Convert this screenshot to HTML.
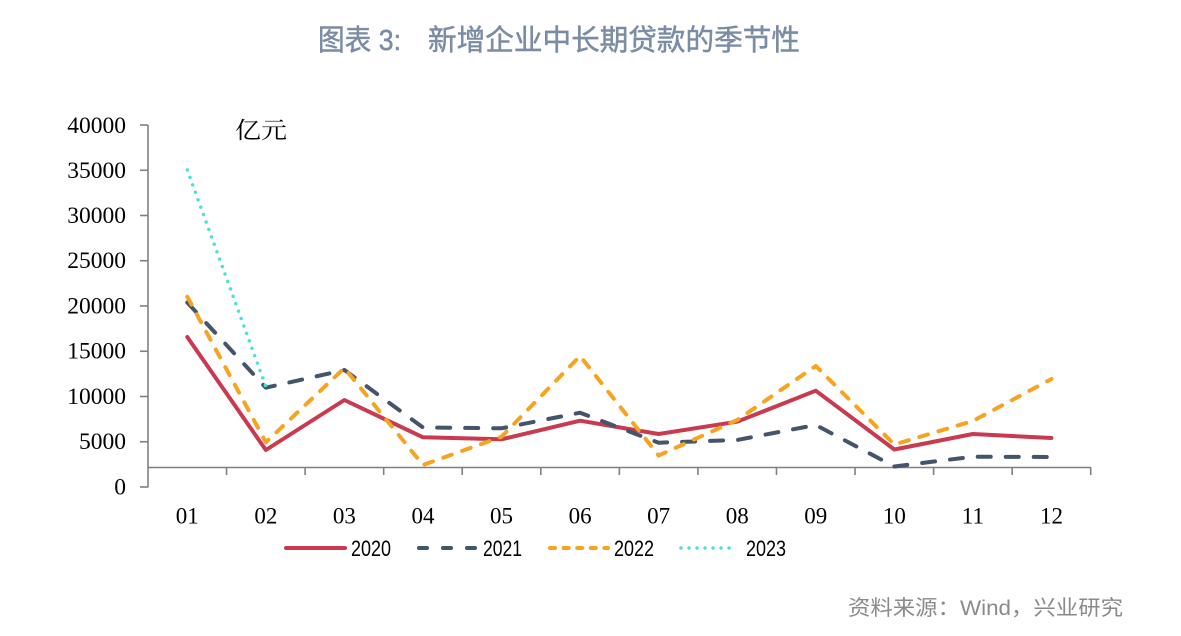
<!DOCTYPE html>
<html>
<head>
<meta charset="utf-8">
<style>
  html, body { margin:0; padding:0; background:#ffffff; }
  body { width:1181px; height:636px; overflow:hidden; }
  svg { display:block; }
</style>
</head>
<body>
<svg width="1181" height="636" viewBox="0 0 1181 636" xmlns="http://www.w3.org/2000/svg">
  <rect x="0" y="0" width="1181" height="636" fill="#ffffff"/>

  <!-- Title -->
  <text x="318" y="50" font-family="'Liberation Sans','Noto Sans CJK SC',sans-serif" font-size="29" fill="#7b8ca5" stroke="#7b8ca5" stroke-width="0.5" textLength="83" lengthAdjust="spacingAndGlyphs">图表 3:</text>
  <text x="428" y="50" font-family="'Liberation Sans','Noto Sans CJK SC',sans-serif" font-size="29" fill="#7b8ca5" stroke="#7b8ca5" stroke-width="0.5" textLength="372" lengthAdjust="spacingAndGlyphs">新增企业中长期贷款的季节性</text>

  <!-- Unit label -->
  <text x="235" y="138" font-family="'Liberation Serif','Noto Serif CJK SC',serif" font-size="23" fill="#000000" textLength="52" lengthAdjust="spacingAndGlyphs">亿元</text>

  <!-- Y axis -->
  <g stroke="#808080" stroke-width="1.6" fill="none">
    <line x1="148" y1="125" x2="148" y2="487.5"/>
    <line x1="140" y1="125" x2="148" y2="125"/>
    <line x1="140" y1="170.25" x2="148" y2="170.25"/>
    <line x1="140" y1="215.5" x2="148" y2="215.5"/>
    <line x1="140" y1="260.75" x2="148" y2="260.75"/>
    <line x1="140" y1="306" x2="148" y2="306"/>
    <line x1="140" y1="351.25" x2="148" y2="351.25"/>
    <line x1="140" y1="396.5" x2="148" y2="396.5"/>
    <line x1="140" y1="441.75" x2="148" y2="441.75"/>
    <line x1="140" y1="487" x2="148" y2="487"/>
    <!-- X axis -->
    <line x1="148" y1="467.5" x2="1091" y2="467.5"/>
    <line x1="226.56" y1="467.5" x2="226.56" y2="475"/>
    <line x1="305.12" y1="467.5" x2="305.12" y2="475"/>
    <line x1="383.68" y1="467.5" x2="383.68" y2="475"/>
    <line x1="462.24" y1="467.5" x2="462.24" y2="475"/>
    <line x1="540.8" y1="467.5" x2="540.8" y2="475"/>
    <line x1="619.36" y1="467.5" x2="619.36" y2="475"/>
    <line x1="697.92" y1="467.5" x2="697.92" y2="475"/>
    <line x1="776.48" y1="467.5" x2="776.48" y2="475"/>
    <line x1="855.04" y1="467.5" x2="855.04" y2="475"/>
    <line x1="933.6" y1="467.5" x2="933.6" y2="475"/>
    <line x1="1012.16" y1="467.5" x2="1012.16" y2="475"/>
    <line x1="1090.72" y1="467.5" x2="1090.72" y2="475"/>
  </g>

  <!-- Y labels -->
  <g font-family="'Liberation Serif',serif" font-size="23.5" fill="#000000" text-anchor="end">
    <text x="126" y="133">40000</text>
    <text x="126" y="178">35000</text>
    <text x="126" y="223">30000</text>
    <text x="126" y="268">25000</text>
    <text x="126" y="313.5">20000</text>
    <text x="126" y="358.5">15000</text>
    <text x="126" y="404">10000</text>
    <text x="126" y="449">5000</text>
    <text x="126" y="494.5">0</text>
  </g>

  <!-- X labels -->
  <g font-family="'Liberation Serif',serif" font-size="23" fill="#000000" text-anchor="middle">
    <text x="187.28" y="523.5">01</text>
    <text x="265.84" y="523.5">02</text>
    <text x="344.4" y="523.5">03</text>
    <text x="422.96" y="523.5">04</text>
    <text x="501.52" y="523.5">05</text>
    <text x="580.08" y="523.5">06</text>
    <text x="658.64" y="523.5">07</text>
    <text x="737.2" y="523.5">08</text>
    <text x="815.76" y="523.5">09</text>
    <text x="894.32" y="523.5">10</text>
    <text x="972.88" y="523.5">11</text>
    <text x="1051.44" y="523.5">12</text>
  </g>

  <!-- Series -->
  <g fill="none" stroke-linejoin="round">
    <!-- 2020 -->
    <polyline stroke="#c93a50" stroke-width="4" stroke-linecap="round"
      points="187.28,337 265.84,450 344.4,400 422.96,437.3 501.52,439.3 580.08,420.7 658.64,434 737.2,421.7 815.76,390.7 894.32,449.5 972.88,434 1051.44,438"/>
    <!-- 2021 -->
    <polyline stroke="#44546a" stroke-width="4" stroke-linecap="round" stroke-dasharray="13 15"
      points="187.28,302.5 265.84,387.7 344.4,370 422.96,427.5 501.52,428.3 580.08,412.7 658.64,442.7 737.2,440 815.76,425 894.32,466.5 972.88,456.7 1051.44,457"/>
    <!-- 2022 -->
    <polyline stroke="#f6a41f" stroke-width="4" stroke-linecap="round" stroke-dasharray="9 11"
      points="187.28,296.7 265.84,442.3 344.4,368 422.96,465 501.52,436.7 580.08,356 658.64,455.5 737.2,420 815.76,366 894.32,444.5 972.88,421 1051.44,379"/>
    <!-- 2023 -->
    <polyline stroke="#4ee0d8" stroke-width="3.5" stroke-linecap="round" stroke-dasharray="0 7.9"
      points="187.28,170 265.84,386.5"/>
  </g>

  <!-- Legend -->
  <g fill="none">
    <line x1="286" y1="548" x2="345" y2="548" stroke="#c93a50" stroke-width="4" stroke-linecap="round"/>
    <line x1="419" y1="548" x2="477" y2="548" stroke="#44546a" stroke-width="4" stroke-linecap="round" stroke-dasharray="8 16"/>
    <line x1="550" y1="548" x2="608" y2="548" stroke="#f6a41f" stroke-width="4" stroke-linecap="round" stroke-dasharray="5 8.6"/>
    <line x1="681" y1="548" x2="737" y2="548" stroke="#4ee0d8" stroke-width="3.5" stroke-linecap="round" stroke-dasharray="0 8"/>
  </g>
  <g font-family="'Liberation Sans',sans-serif" font-size="22" fill="#000000">
    <text x="351" y="556" textLength="40" lengthAdjust="spacingAndGlyphs">2020</text>
    <text x="483" y="556" textLength="39" lengthAdjust="spacingAndGlyphs">2021</text>
    <text x="614" y="556" textLength="40" lengthAdjust="spacingAndGlyphs">2022</text>
    <text x="746" y="556" textLength="40" lengthAdjust="spacingAndGlyphs">2023</text>
  </g>

  <!-- Source -->
  <text x="1123" y="615" text-anchor="end" font-family="'Liberation Sans','Noto Sans CJK SC',sans-serif" font-size="21" fill="#8a8a8a" textLength="275" lengthAdjust="spacingAndGlyphs">资料来源：Wind，兴业研究</text>
</svg>
</body>
</html>
